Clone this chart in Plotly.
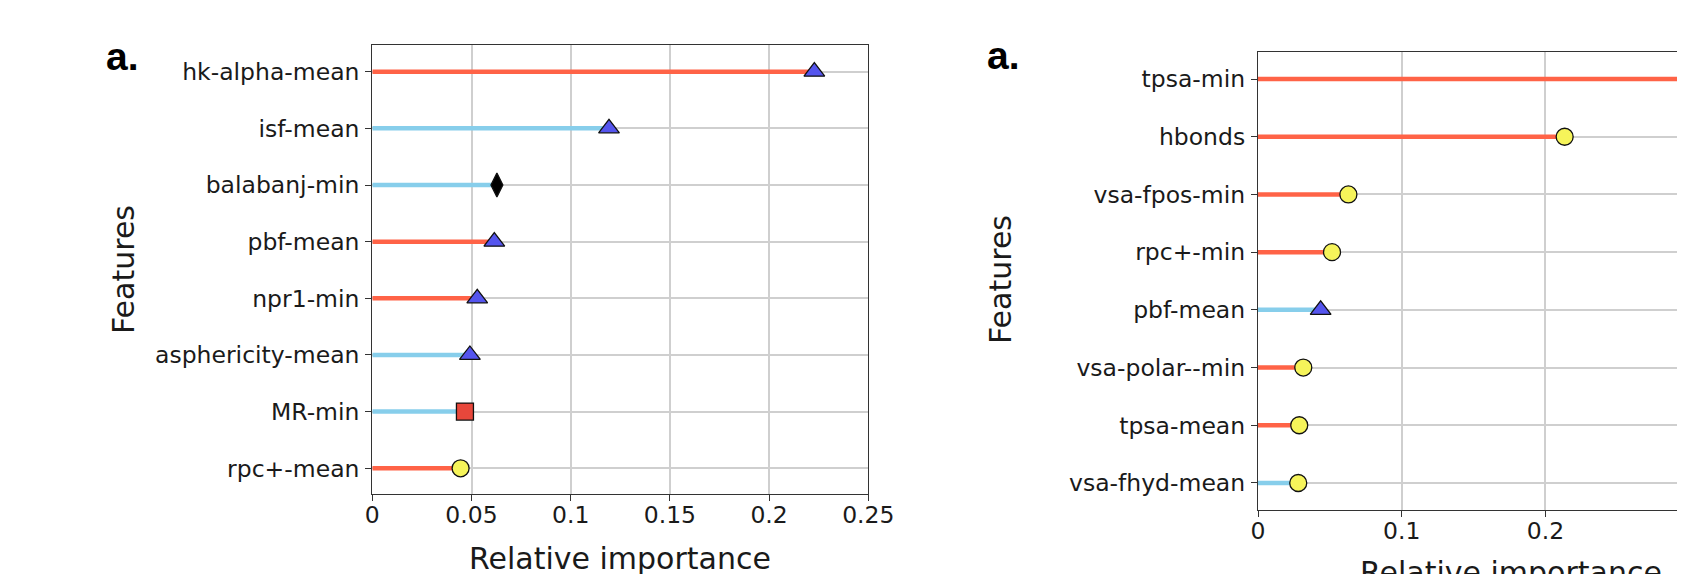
import plotly.graph_objects as go

# ---------------- data ----------------
left_features = ["hk-alpha-mean", "isf-mean", "balabanj-min", "pbf-mean",
                 "npr1-min", "asphericity-mean", "MR-min", "rpc+-mean"]
left_values = [0.2228, 0.1193, 0.0628, 0.0615, 0.0529, 0.0492, 0.0467, 0.0445]
left_line_groups = ["pos", "neg", "neg", "pos", "pos", "neg", "neg", "pos"]
left_marker_groups = ["triangle", "triangle", "diamond", "triangle",
                      "triangle", "triangle", "square", "circle"]

right_features = ["tpsa-min", "hbonds", "vsa-fpos-min", "rpc+-min",
                  "pbf-mean", "vsa-polar--min", "tpsa-mean", "vsa-fhyd-mean"]
right_values = [0.34, 0.2134, 0.0629, 0.0515, 0.0436, 0.0315, 0.0287, 0.0280]
right_line_groups = ["pos", "pos", "pos", "pos", "neg", "pos", "pos", "neg"]
right_marker_groups = ["circle", "circle", "circle", "circle",
                       "triangle", "circle", "circle", "circle"]

left_xticks = [0, 0.05, 0.1, 0.15, 0.2, 0.25]
left_xticktext = ["0", "0.05", "0.1", "0.15", "0.2", "0.25"]
right_xticks = [0, 0.1, 0.2, 0.3]
right_xticktext = ["0", "0.1", "0.2", "0.3"]

panel_label = "a."
x_title = "Relative importance"
y_title = "Features"

# ---------------- styles ----------------
W, H = 1685, 574
OFF = 8  # page body margin of the html page
LINE_COLORS = {"pos": "#FF6347", "neg": "#87CEEB"}
MARKERS = {
    "triangle": dict(symbol="triangle-up", color="#5555EE", size=18),
    "diamond": dict(symbol="diamond-tall", color="#000000", size=17),
    "square": dict(symbol="square", color="#E8473B", size=17),
    "circle": dict(symbol="circle", color="#F6F45A", size=17),
}
FONT = "DejaVu Sans"
TXT = "#1a1a1a"


def px_x(p):
    return (p - OFF) / W


def px_y(p):
    return 1 - (p - OFF) / H


fig = go.Figure()


def add_panel(features, values, line_groups, marker_groups, xa, ya):
    for f, v, g in zip(features, values, line_groups):
        fig.add_trace(go.Scatter(
            x=[0, v], y=[f, f], mode="lines",
            line=dict(color=LINE_COLORS[g], width=4.5),
            xaxis=xa, yaxis=ya, showlegend=False, hoverinfo="skip"))
    for mk, st in MARKERS.items():
        xs = [v for v, m in zip(values, marker_groups) if m == mk]
        ys = [f for f, m in zip(features, marker_groups) if m == mk]
        if not xs:
            continue
        fig.add_trace(go.Scatter(
            x=xs, y=ys, mode="markers",
            marker=dict(symbol=st["symbol"], color=st["color"], size=st["size"],
                        line=dict(color="#111111", width=1.3)),
            xaxis=xa, yaxis=ya, showlegend=False))


add_panel(left_features, left_values, left_line_groups, left_marker_groups, "x", "y")
add_panel(right_features, right_values, right_line_groups, right_marker_groups, "x2", "y2")

axis_common = dict(
    showgrid=True, gridcolor="#cfcfcf", gridwidth=1.5,
    showline=True, linecolor="#333333", linewidth=1.3,
    ticks="outside", ticklen=6, tickwidth=1.2, tickcolor="#333333",
    zeroline=False, automargin=False,
    tickfont=dict(family=FONT, size=23.5, color=TXT),
)

right_x0 = 1258
fig.update_layout(
    xaxis=dict(axis_common, domain=[px_x(372.3), px_x(868.3)], range=[0, 0.25],
               tickvals=left_xticks, ticktext=left_xticktext,
               anchor="y", mirror=True, ticklabelstandoff=-6),
    yaxis=dict(axis_common, domain=[px_y(494), px_y(45)], type="category",
               categoryorder="array", categoryarray=left_features[::-1],
               range=[-0.454, 7.471], anchor="x", mirror=True,
               ticklabelstandoff=1),
    xaxis2=dict(axis_common, domain=[px_x(right_x0), 1.0],
                range=[0, (W - (right_x0 - OFF)) / 1437],
                tickvals=right_xticks, ticktext=right_xticktext,
                anchor="y2", mirror=True, ticklabelstandoff=-6),
    yaxis2=dict(axis_common, domain=[px_y(509.7), px_y(52.3)], type="category",
                categoryorder="array", categoryarray=right_features[::-1],
                range=[-0.463, 7.463], anchor="x2", mirror=False,
                ticklabelstandoff=1),
)

annotations = [
    # panel labels
    dict(text="<b>" + panel_label + "</b>", x=px_x(104), y=px_y(57), xanchor="left", yanchor="middle",
         font=dict(family="Liberation Sans", size=39, color="#000000")),
    dict(text="<b>" + panel_label + "</b>", x=px_x(985), y=px_y(56), xanchor="left", yanchor="middle",
         font=dict(family="Liberation Sans", size=39, color="#000000")),
    # axis titles
    dict(text=x_title, x=px_x(620.3), y=px_y(558), xanchor="center", yanchor="middle",
         font=dict(family=FONT, size=30, color=TXT)),
    dict(text=x_title, x=px_x(1510.5), y=px_y(572), xanchor="center", yanchor="middle",
         font=dict(family=FONT, size=30, color=TXT)),
    dict(text=y_title, x=px_x(123.5), y=px_y(269.5), xanchor="center", yanchor="middle",
         textangle=-90, font=dict(family=FONT, size=30, color=TXT)),
    dict(text=y_title, x=px_x(1000.5), y=px_y(279.5), xanchor="center", yanchor="middle",
         textangle=-90, font=dict(family=FONT, size=30, color=TXT)),
]
for a in annotations:
    a.update(xref="paper", yref="paper", showarrow=False)

fig.update_layout(
    width=W, height=H,
    margin=dict(l=0, r=0, t=0, b=0),
    paper_bgcolor="white", plot_bgcolor="white",
    annotations=annotations,
    showlegend=False,
)

fig.write_html("out.html")
